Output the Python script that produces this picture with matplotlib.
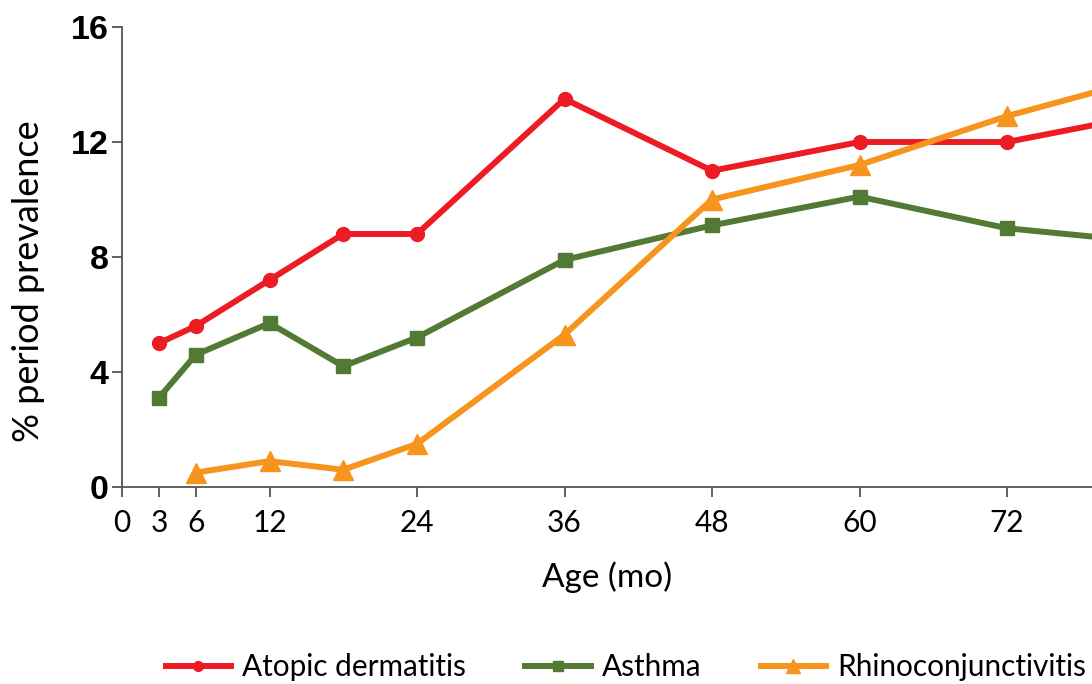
import matplotlib
matplotlib.use("Agg")
import matplotlib.pyplot as plt

ages_ad = [3, 6, 12, 18, 24, 36, 48, 60, 72, 84]
atopic = [5.0, 5.6, 7.2, 8.8, 8.8, 13.5, 11.0, 12.0, 12.0, 13.0]
ages_as = [3, 6, 12, 18, 24, 36, 48, 60, 72, 84]
asthma = [3.1, 4.6, 5.7, 4.2, 5.2, 7.9, 9.1, 10.1, 9.0, 8.5]
ages_rc = [6, 12, 18, 24, 36, 48, 60, 72, 84]
rhino = [0.5, 0.9, 0.6, 1.5, 5.3, 10.0, 11.2, 12.9, 14.3]

xticks = [0, 3, 6, 12, 24, 36, 48, 60, 72]
yticks = [0, 4, 8, 12, 16]

hum = ["Lato", "DejaVu Sans"]

fig = plt.figure(figsize=(10.92, 6.84), dpi=100)
ax = fig.add_axes([122/1092, 1-487/684, 1-122/1092, (487-27)/684])

red, green, orange = "#ED1C24", "#537A35", "#F7941D"
lw = 4.3
ax.plot(ages_ad, atopic, color=red, lw=lw, marker="o", ms=10, label="Atopic dermatitis", zorder=3)
ax.plot(ages_as, asthma, color=green, lw=lw, marker="s", ms=10.5, label="Asthma", zorder=3)
ax.plot(ages_rc, rhino, color=orange, lw=lw, marker="^", ms=14, label="Rhinoconjunctivitis", zorder=3)

ax.set_xticks(xticks)
ax.set_xticklabels([str(t) for t in xticks], fontfamily=hum, fontsize=21.5)
ax.set_yticks(yticks)
ax.set_yticklabels([str(t) for t in yticks], fontfamily="Liberation Sans", fontweight="bold", fontsize=24.5)
ax.set_xlim(0, (1092-122)/((1007-122)/72))
ax.set_ylim(0, 16)

for s in ["top", "right"]:
    ax.spines[s].set_visible(False)
for s in ["left", "bottom"]:
    ax.spines[s].set_color("#555555")
    ax.spines[s].set_linewidth(1.3)

ax.tick_params(axis="x", direction="out", length=7.5, width=1.3, color="#555555", pad=8)
ax.tick_params(axis="y", direction="out", length=7.5, width=1.3, color="#555555", pad=2)

ax.set_xlabel("Age (mo)", fontfamily=hum, fontsize=24, labelpad=18)
ax.set_ylabel("% period prevalence", fontfamily=hum, fontsize=26)
ax.yaxis.set_label_coords(-0.079, 0.448)

leg = fig.legend(loc="center", bbox_to_anchor=(0.573, 1-667/684), ncol=3, frameon=False,
                 prop={"family": hum, "size": 21.4}, handlelength=2.2, columnspacing=2.0,
                 handletextpad=0.37, markerscale=0.7)

fig.savefig("out.png", dpi=100)
